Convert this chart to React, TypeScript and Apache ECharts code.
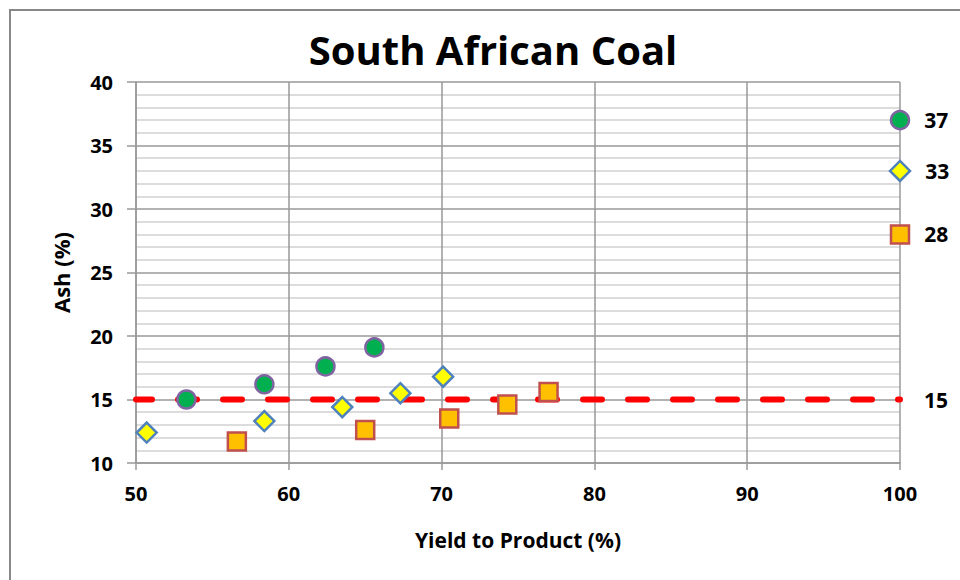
import React, { useEffect, useRef } from "react";
import * as echarts from "echarts";

const titleText = "South African Coal";
const xName = "Yield to Product (%)";
const yName = "Ash (%)";

const circleSeries: [number, number][] = [
  [53.3, 15.0],
  [58.4, 16.2],
  [62.4, 17.6],
  [65.6, 19.1],
  [100, 37],
];
const diamondSeries: [number, number][] = [
  [50.7, 12.4],
  [58.4, 13.3],
  [63.5, 14.4],
  [67.3, 15.5],
  [70.1, 16.8],
  [100, 33],
];
const squareSeries: [number, number][] = [
  [56.6, 11.7],
  [65.0, 12.6],
  [70.5, 13.5],
  [74.3, 14.6],
  [77.0, 15.6],
  [100, 28],
];
const limitLine: [number, number][] = [
  [50, 15],
  [100, 15],
];

const FONT = "'Open Sans', 'Liberation Sans', sans-serif";

function withEndLabel(data: [number, number][]) {
  return data.map((d, i) =>
    i === data.length - 1
      ? {
          value: d,
          label: {
            show: true,
            position: "right",
            distance: 14,
            formatter: String(d[1]),
            color: "#000",
            fontWeight: "bold",
            fontSize: 21,
            fontFamily: FONT,
          },
        }
      : { value: d }
  );
}

export default function App() {
  const ref = useRef<HTMLDivElement>(null);
  useEffect(() => {
    if (!ref.current) return;
    const chart = echarts.init(ref.current, undefined, { renderer: "svg" });
    chart.setOption({
      animation: false,
      backgroundColor: "#fff",
      title: {
        text: titleText,
        left: 488,
        textAlign: "center",
        top: 24,
        textStyle: { fontSize: 40, fontWeight: "bold", color: "#000", fontFamily: FONT },
      },
      graphic: [
        {
          type: "polyline",
          shape: { points: [[10, 580], [10, 10], [960, 10]] },
          style: { stroke: "#888", lineWidth: 2, fill: "none" },
          silent: true,
        },
      ],
      grid: { left: 136, right: 60, top: 82, bottom: 117 },
      xAxis: {
        type: "value",
        min: 50,
        max: 100,
        interval: 10,
        name: xName,
        nameLocation: "middle",
        nameGap: 66,
        nameTextStyle: { fontSize: 21, fontWeight: "bold", color: "#000", fontFamily: FONT },
        axisLine: { show: true, lineStyle: { color: "#999", width: 1.5 } },
        axisTick: { show: true, inside: false, length: 7, lineStyle: { color: "#999", width: 1.5 } },
        axisLabel: { margin: 20, fontSize: 20, fontWeight: "bold", color: "#000", fontFamily: FONT },
        splitLine: { show: true, lineStyle: { color: "#999", width: 1.5 } },
      },
      yAxis: {
        type: "value",
        min: 10,
        max: 40,
        interval: 5,
        name: yName,
        nameLocation: "middle",
        nameGap: 64,
        nameTextStyle: { fontSize: 22, fontWeight: "bold", color: "#000", fontFamily: FONT },
        axisLine: { show: true, lineStyle: { color: "#999", width: 1.5 } },
        axisTick: { show: true, inside: false, length: 9, lineStyle: { color: "#999", width: 1.5 } },
        axisLabel: { margin: 23, fontSize: 20, fontWeight: "bold", color: "#000", fontFamily: FONT },
        splitLine: { show: true, lineStyle: { color: "#999", width: 1.5 } },
        minorTick: { show: false, splitNumber: 5 },
        minorSplitLine: { show: true, lineStyle: { color: "#d0d0d0", width: 1.5 } },
      },
      series: [
        {
          type: "line",
          data: limitLine,
          symbol: "none",
          z: 2,
          lineStyle: { color: "#ff0000", width: 6, type: [19, 26], dashOffset: 3, cap: "round" },
          endLabel: {
            show: true,
            distance: 24,
            formatter: () => String(limitLine[1][1]),
            color: "#000",
            fontWeight: "bold",
            fontSize: 21,
            fontFamily: FONT,
          },
        },
        {
          type: "scatter",
          data: withEndLabel(circleSeries),
          symbol: "circle",
          symbolSize: 18,
          z: 3,
          itemStyle: { color: "#00b050", borderColor: "#8064a2", borderWidth: 2.5, opacity: 1 },
        },
        {
          type: "scatter",
          data: withEndLabel(diamondSeries),
          symbol: "diamond",
          symbolSize: 20,
          z: 3,
          itemStyle: { color: "#ffff00", borderColor: "#4f81bd", borderWidth: 2.5, opacity: 1 },
        },
        {
          type: "scatter",
          data: withEndLabel(squareSeries),
          symbol: "rect",
          symbolSize: 18,
          z: 3,
          itemStyle: { color: "#ffc000", borderColor: "#c0504d", borderWidth: 2.5, opacity: 1 },
        },
      ],
    });
    return () => chart.dispose();
  }, []);
  return <div ref={ref} style={{ width: 960, height: 580, position: "fixed", left: 0, top: 0 }} />;
}
